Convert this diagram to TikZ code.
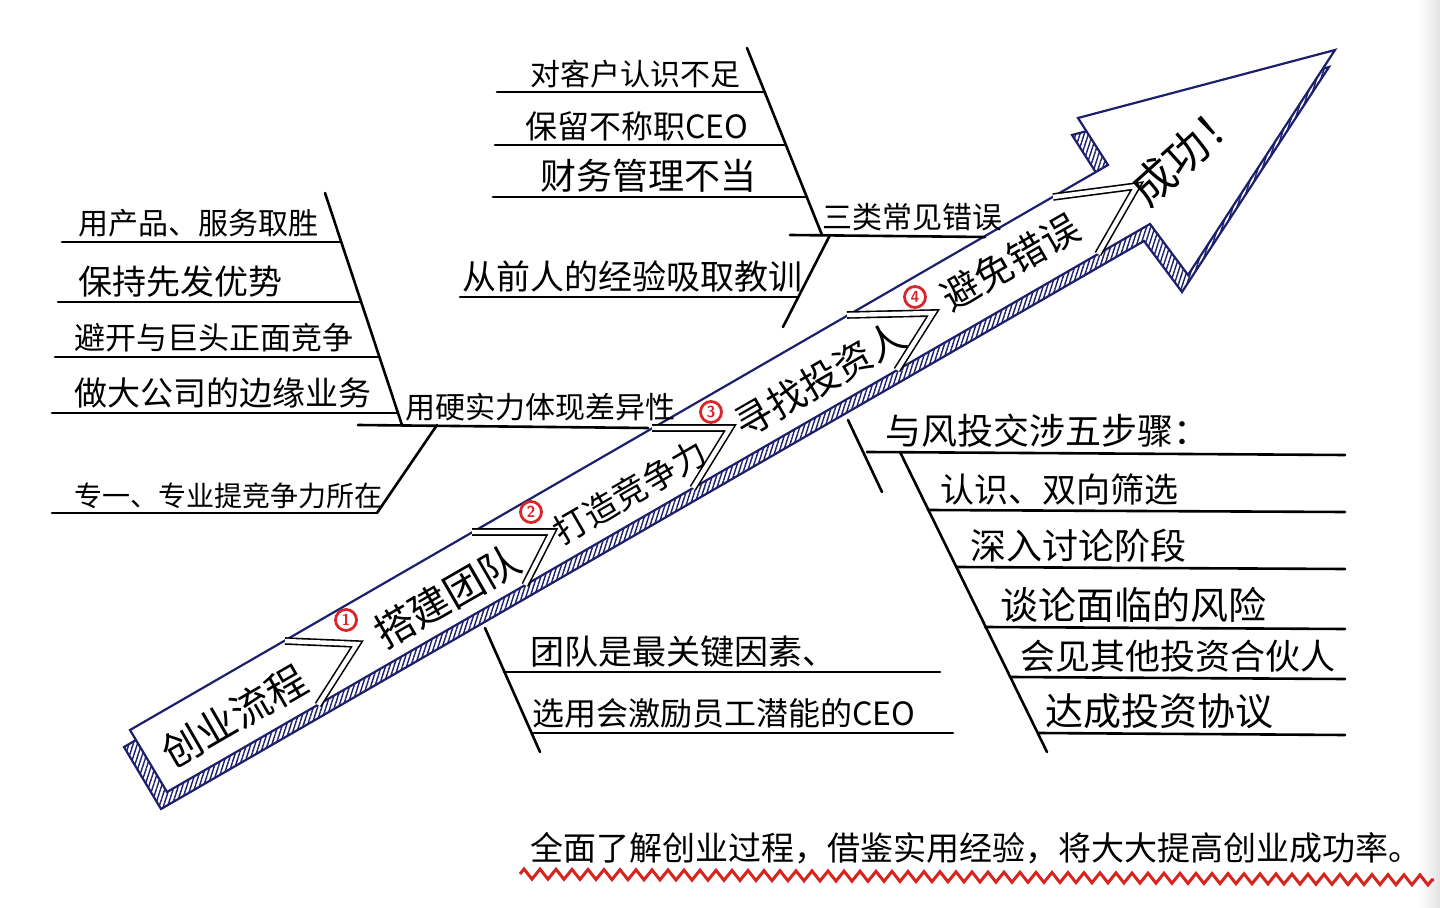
\documentclass[tikz,border=0pt]{standalone}
\usepackage{fontspec}
\newfontfamily\cjk{Noto Sans CJK SC}
\usetikzlibrary{patterns.meta,decorations.pathmorphing}
\definecolor{navy}{HTML}{1C1F6B}
\definecolor{numred}{HTML}{D8262B}
\definecolor{wavy}{HTML}{D9231F}
\newcommand\myfs[1]{\fontsize{#1}{#1}\selectfont}
\begin{document}
\begin{tikzpicture}[x=0.5pt,y=-0.5pt,
  lab/.style={anchor=south west, inner sep=0pt, font=\cjk\myfs{16pt}},
  bone/.style={line width=1.3pt, line cap=round},
  bandline/.style={draw=navy, line width=1.1pt, line join=miter},
  chev/.style={draw=black, double=white, double distance=2.2pt, line width=0.8pt, line join=miter},
  num/.style={circle, draw=numred, text=numred, line width=1.4pt, inner sep=0.8pt, minimum size=10.5pt, font=\sffamily\bfseries\myfs{8pt}},
  blab/.style={rotate=30, inner sep=0pt, font=\cjk\myfs{20pt}}]
\useasboundingbox (0,0) rectangle (1440,908);
\fill[white] (0,0) rectangle (1440,908);
\shade[left color=white, right color=gray!22] (1418,0) rectangle (1440,908);

% ---- 3D shadow of the big arrow (hatched)
\begin{scope}[shift={(-6,17)}]
\path[bandline, pattern={Lines[angle=72,distance=2pt,line width=0.7pt]}, pattern color=navy]
  (130,730) -- (1108,165) -- (1078,118) -- (1335,50) -- (1188,275) -- (1150,224) -- (167,792) -- cycle;
\end{scope}
% ---- white face of the big arrow
\path[bandline, fill=white]
  (130,730) -- (1108,165) -- (1078,118) -- (1335,50) -- (1188,275) -- (1150,224) -- (167,792) -- cycle;

% ---- chevrons inside the band
\coordinate (P1) at (285,641); \coordinate (Q1) at (357,644); \coordinate (R1) at (318,705);
\coordinate (P2) at (472,532); \coordinate (Q2) at (552,532); \coordinate (R2) at (525,585);
\coordinate (P3) at (652,428); \coordinate (Q3) at (730,428); \coordinate (R3) at (693,488);
\coordinate (P4) at (847,315); \coordinate (Q4) at (933,313); \coordinate (R4) at (897,370);
\coordinate (P5) at (1053,197); \coordinate (Q5) at (1137,186); \coordinate (R5) at (1098,254);
\foreach \i in {1,...,5} \draw[chev] (P\i) -- (Q\i) -- (R\i);

% ---- band labels
\node[blab] (s0) at (234,716) {创业流程};
\node[blab, font=\cjk\myfs{20pt}] (s1) at (447,596) {搭建团队};
\node[blab, font=\cjk\myfs{17pt}] (s2) at (630,492) {打造竞争力};
\node[blab, font=\cjk\myfs{19pt}] (s3) at (820,380) {寻找投资人};
\node[blab, font=\cjk\myfs{19pt}] (s4) at (1010,262) {避免错误};
\node[rotate=42, inner sep=0pt, font=\cjk\myfs{22pt}] (win) at (1186,152) {成功！};
\node[num] (n1) at (346,620) {1};
\node[num] (n2) at (531,512) {2};
\node[num] (n3) at (711,412) {3};
\node[num] (n4) at (915,297) {4};

% ---- branch A (left)
\coordinate (Atop) at (325,193); \coordinate (Ahub) at (402,425);
\coordinate (Am0) at (358,425); \coordinate (Am1) at (648,428);
\coordinate (Bs0) at (437,425); \coordinate (Bs1) at (377,513);
\draw[bone] (Atop) -- (Ahub);
\draw[bone] (Am0) -- (Am1);
\draw[bone] (Bs0) -- (Bs1);
\coordinate (a1s) at (62,242);  \coordinate (a1e) at (341,242);
\coordinate (a2s) at (58,302);  \coordinate (a2e) at (361,302);
\coordinate (a3s) at (55,357);  \coordinate (a3e) at (379,357);
\coordinate (a4s) at (52,413);  \coordinate (a4e) at (398,413);
\coordinate (a5s) at (52,513);  \coordinate (a5e) at (377,513);
\foreach \i in {1,...,5} \draw[bone] (a\i s) -- (a\i e);
\node[lab, font=\cjk\myfs{15pt}] (ta1) at (78,238) {用产品、服务取胜};
\node[lab, font=\cjk\myfs{17pt}] (ta2) at (78,298) {保持先发优势};
\node[lab, font=\cjk\myfs{15.5pt}] (ta3) at (74,353) {避开与巨头正面竞争};
\node[lab, font=\cjk\myfs{16.5pt}] (ta4) at (74,409) {做大公司的边缘业务};
\node[lab, font=\cjk\myfs{14pt}] (ta5) at (74,509) {专一、专业提竞争力所在};
\node[lab, font=\cjk\myfs{15pt}] (tam) at (405,421) {用硬实力体现差异性};

% ---- branch B (top)
\coordinate (Btop) at (747,48); \coordinate (Bhub) at (822,235);
\coordinate (Bm0) at (790,235); \coordinate (Bm1) at (985,237);
\coordinate (Cs0) at (830,235); \coordinate (Cs1) at (783,327);
\draw[bone] (Btop) -- (Bhub);
\draw[bone] (Bm0) -- (Bm1);
\draw[bone] (Cs0) -- (Cs1);
\coordinate (b1s) at (497,92);  \coordinate (b1e) at (765,92);
\coordinate (b2s) at (495,145); \coordinate (b2e) at (786,145);
\coordinate (b3s) at (493,197); \coordinate (b3e) at (807,197);
\coordinate (b4s) at (460,297); \coordinate (b4e) at (798,297);
\foreach \i in {1,...,4} \draw[bone] (b\i s) -- (b\i e);
\node[lab, font=\cjk\myfs{15pt}] (tb1) at (530,88) {对客户认识不足};
\node[lab] (tb2) at (525,141) {保留不称职CEO};
\node[lab, font=\cjk\myfs{18pt}] (tb3) at (540,193) {财务管理不当};
\node[lab, font=\cjk\myfs{17pt}] (tb4) at (462,293) {从前人的经验吸取教训};
\node[lab, font=\cjk\myfs{15pt}] (tbm) at (822,231) {三类常见错误};

% ---- branch C (bottom, team)
\coordinate (Ctop) at (485,628); \coordinate (Cbot) at (540,752);
\draw[bone] (Ctop) -- (Cbot);
\coordinate (c1s) at (504,672); \coordinate (c1e) at (940,672);
\coordinate (c2s) at (532,733); \coordinate (c2e) at (953,733);
\draw[bone] (c1s) -- (c1e);
\draw[bone] (c2s) -- (c2e);
\node[lab, font=\cjk\myfs{17pt}] (tc1) at (530,668) {团队是最关键因素、};
\node[lab] (tc2) at (532,729) {选用会激励员工潜能的CEO};

% ---- branch D (right, investors)
\coordinate (Dtop) at (848,420); \coordinate (Dbot) at (882,492);
\coordinate (Dm0) at (867,452); \coordinate (Dm1) at (1345,455);
\coordinate (Es0) at (900,452); \coordinate (Es1) at (1047,752);
\draw[bone] (Dtop) -- (Dbot);
\draw[bone] (Dm0) -- (Dm1);
\draw[bone] (Es0) -- (Es1);
\coordinate (d1s) at (928,510);  \coordinate (d1e) at (1345,512);
\coordinate (d2s) at (956,567);  \coordinate (d2e) at (1345,569);
\coordinate (d3s) at (985,627);  \coordinate (d3e) at (1345,629);
\coordinate (d4s) at (1010,677); \coordinate (d4e) at (1345,679);
\coordinate (d5s) at (1038,733); \coordinate (d5e) at (1345,735);
\foreach \i in {1,...,5} \draw[bone] (d\i s) -- (d\i e);
\node[lab, font=\cjk\myfs{18pt}] (tdm) at (885,448) {与风投交涉五步骤：};
\node[lab, font=\cjk\myfs{17pt}] (td1) at (940,506) {认识、双向筛选};
\node[lab, font=\cjk\myfs{18pt}] (td2) at (970,563) {深入讨论阶段};
\node[lab, font=\cjk\myfs{19pt}] (td3) at (1000,623) {谈论面临的风险};
\node[lab, font=\cjk\myfs{17.5pt}] (td4) at (1020,673) {会见其他投资合伙人};
\node[lab, font=\cjk\myfs{19pt}] (td5) at (1045,729) {达成投资协议};

% ---- bottom sentence with red wavy underline
\node[lab, font=\cjk\myfs{16.5pt}] (sum) at (530,864) {全面了解创业过程，借鉴实用经验，将大大提高创业成功率。};
\coordinate (w0) at (520,874); \coordinate (w1) at (1434,880);
\draw[wavy, line width=1.5pt, decorate, decoration={zigzag, segment length=8pt, amplitude=2.5pt}] (w0) -- (w1);
\end{tikzpicture}
\end{document}
